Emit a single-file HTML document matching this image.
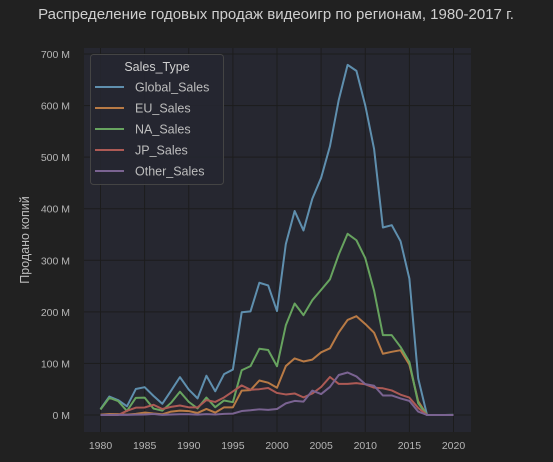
<!DOCTYPE html>
<html><head><meta charset="utf-8"><style>
body{margin:0;background:#212121;}
svg{display:block;font-family:"Liberation Sans","DejaVu Sans",sans-serif;}
</style></head><body>
<svg id="chart" width="553" height="462">
<rect width="553" height="462" fill="#212121"/>
<text x="276" y="19" text-anchor="middle" fill="#cfcfcf" font-size="15">Распределение годовых продаж видеоигр по регионам, 1980-2017 г.</text>
<rect x="84" y="48" width="387" height="384" fill="#262730"/>
<g id="grid"></g><g id="lines"></g><g id="ticks"></g>
<text transform="translate(29,240) rotate(-90)" text-anchor="middle" fill="#bdbdbd" font-size="12.5">Продано копий</text>
<g>
<rect x="90.5" y="54.5" width="133" height="130" rx="3" fill="#262730" fill-opacity="0.85" stroke="#444"/>
<text x="157" y="71" text-anchor="middle" fill="#cfcfcf" font-size="12.5">Sales_Type</text>
<g id="legend"></g>
</g>
</svg>
<script>
const years=[];for(let y=1980;y<=2020;y++)years.push(y);
const globalSales=[11.38,35.77,28.86,16.79,50.36,53.94,37.07,21.74,47.22,73.45,49.39,32.23,76.16,45.98,79.17,88.11,199.15,200.98,256.47,251.27,201.56,331.47,395.52,357.85,419.31,459.94,521.04,611.13,678.9,667.3,600.45,515.99,363.54,368.11,337.05,264.44,70.93,0.05,0,0,0.29];
const euSales=[0.67,1.96,1.65,0.8,2.1,4.74,2.84,1.41,6.59,8.44,7.63,3.95,11.71,4.65,14.88,14.9,47.26,48.32,66.9,62.67,52.75,94.89,109.74,103.81,107.32,121.55,129.24,160.18,184.4,191.59,176.57,159.62,118.78,122.51,125.65,97.71,26.76,0,0,0,0];
const naSales=[10.59,33.4,26.92,7.76,33.28,33.73,12.5,8.46,23.87,45.15,25.46,12.76,33.87,15.12,28.15,24.82,86.76,94.75,128.36,126.06,94.49,173.98,216.19,193.59,222.59,242.61,263.12,311.18,351.44,338.85,304.24,241.21,154.96,154.77,131.97,102.82,22.66,0,0,0,0.27];
const jpSales=[0,0,0,8.1,14.27,14.56,19.81,11.63,15.76,18.36,14.88,14.78,28.91,25.33,33.99,45.75,57.44,48.87,50.04,52.34,42.77,39.86,41.76,34.2,41.65,54.28,73.73,60.29,60.26,61.89,59.49,53.04,51.8,47.59,39.46,33.72,13.7,0.05,0,0,0];
const otherSales=[0.12,0.32,0.31,0.14,0.7,0.92,1.93,0.2,0.99,1.5,1.4,0.74,1.65,0.89,2.2,2.64,7.69,9.13,11.03,10.05,11.62,22.56,27.28,26.01,47.29,40.58,54.43,77.58,82.39,74.77,59.9,56.72,37.84,37.88,32.08,27.38,6.55,0,0,0,0];
const xTicks=[1980,1985,1990,1995,2000,2005,2010,2015,2020];
const yTicks=[0,100,200,300,400,500,600,700];
const seriesNames=["Global_Sales","EU_Sales","NA_Sales","JP_Sales","Other_Sales"];
const seriesColors=["#5f8fae","#b87a45","#67a35f","#ad5a55","#7a6391"];
const seriesData=[globalSales,euSales,naSales,jpSales,otherSales];
const X=y=>100.5+(y-1980)*(353/40);
const Y=v=>415-v*(361/700);
const NS="http://www.w3.org/2000/svg";
function mk(tag,attrs,parent,text){const e=document.createElementNS(NS,tag);for(const k in attrs)e.setAttribute(k,attrs[k]);if(text!==undefined)e.textContent=text;parent.appendChild(e);return e;}
const grid=document.getElementById('grid'),ticks=document.getElementById('ticks'),lines=document.getElementById('lines'),leg=document.getElementById('legend');
xTicks.forEach(t=>{
 const l=mk('line',{x1:X(t),x2:X(t),y1:48,y2:432,stroke:'#1c1c1c','stroke-width':1},grid);
 
 
 const tx=mk('text',{x:X(t),y:449,'text-anchor':'middle',fill:'#b5b5b5','font-size':10.5},ticks,String(t));
 
 
});
yTicks.forEach(t=>{
 const l=mk('line',{x1:84,x2:471,y1:Y(t),y2:Y(t),stroke:'#1c1c1c','stroke-width':1},grid);
 
 
 const tx=mk('text',{x:70,y:Y(t)+4,'text-anchor':'end',fill:'#b5b5b5','font-size':10.5},ticks,t+' M');
 
 
});
seriesData.forEach((d,i)=>{
 const p=mk('polyline',{points:d.map((v,j)=>X(years[j])+','+Y(v)).join(' '),fill:'none',stroke:seriesColors[i],'stroke-width':2,'stroke-linejoin':'round'},lines);
 
 
 const y=87+i*21;
 const l=mk('line',{x1:95,x2:124,y1:y,y2:y,stroke:seriesColors[i],'stroke-width':2},leg);
 
 
 const t=mk('text',{x:135,y:y+4.5,fill:'#bdbdbd','font-size':12.5},leg,seriesNames[i]);
 
 
});
</script>
</body></html>
